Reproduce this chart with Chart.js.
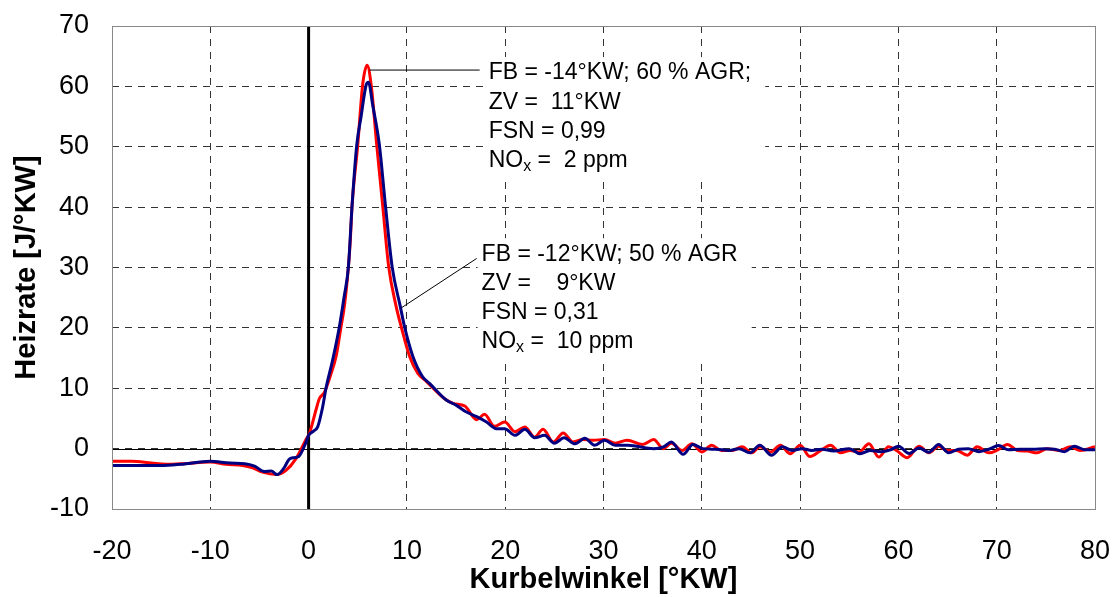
<!DOCTYPE html>
<html>
<head>
<meta charset="utf-8">
<script src="https://cdn.jsdelivr.net/npm/chart.js@4/dist/chart.umd.min.js"></script>
<style>
  html, body { margin: 0; padding: 0; background: #fff; }
  canvas { display: block; }
</style>
</head>
<body>
<canvas id="chart" width="1115" height="597"></canvas>
<script>
const xTicks = { min: -20, max: 80, step: 10 };
const yTicks = { min: -10, max: 70, step: 10 };

// FB = -14°KW; 60 % AGR (red)
const redX = [
  -20, -18, -16, -14.5, -12.8, -10, -8.4, -6.7, -5.7, -4.7,
  -3.3, -2.3, -1.3, -0.3, 0.1, 0.75, 1.1, 1.6, 2.2, 2.8,
  3.3, 3.64, 4.05, 4.25, 4.42, 5.0, 5.5, 5.95, 6.36, 6.93,
  7.54, 8.15, 8.9, 9.42, 10.27, 11.1, 12.0, 13.8, 14.7, 15.9,
  17.1, 17.9, 18.9, 19.95, 21.0, 22.0, 23.0, 23.85, 24.9, 25.9,
  26.9, 27.9, 28.95, 30.1, 31.2, 32.4, 34.0, 35.1, 36.1, 36.9,
  38.0, 39.0, 40.0, 41.0, 42.0, 43.1, 44.1, 45.1, 45.9, 47.0,
  48.0, 49.0, 50.0, 51.0, 52.1, 53.1, 54.1, 55.1, 56.0, 57.0,
  58.0, 59.0, 59.8, 60.9, 62.1, 63.1, 64.1, 64.9, 65.9, 67.0,
  68.0, 69.2, 70.0, 71.1, 72.1, 73.1, 74.1, 75.1, 76.4, 77.5,
  78.5, 80
];
const redY = [
  -2.1, -2.1, -2.4, -2.6, -2.5, -2.2, -2.6, -2.8, -3.2, -3.9,
  -4.3, -3.6, -1.7, 1.4, 2.6, 6.4, 8.3, 9.3, 12.0, 15.3,
  20.2, 23.6, 30.1, 34.7, 40.2, 50.3, 60.3, 63.5, 60.3, 50.3,
  40.2, 30.1, 23.6, 20.2, 15.3, 12.5, 11.1, 8.3, 7.5, 7.05,
  4.8, 5.7, 3.7, 4.4, 2.8, 3.6, 1.9, 3.2, 1.1, 2.6,
  1.1, 1.5, 1.4, 1.5, 0.9, 1.4, 0.7, 1.5, 0.0, 0.9,
  -0.3, 0.8, -0.55, 0.55, -0.3, -0.3, 0.3, -0.7, 0.3, -0.55,
  0.55, -0.85, 0.55, -1.3, -0.3, 0.55, -0.7, -0.3, -0.55, 0.8,
  -1.4, 0.3, -0.3, -1.5, 0.4, -0.7, 0.4, -0.3, -0.3, -1.1,
  0.3, -0.7, -0.3, 0.7, -0.3, -0.4, -0.7, 0.0, -0.3, 0.3,
  -0.3, 0.3
];

// FB = -12°KW; 50 % AGR (blue)
const blueX = [
  -20, -17, -15, -13, -10, -8, -6.5, -5.5, -4.5, -3.8,
  -3.2, -2.5, -2.0, -1.5, -1.0, -0.3, 0.0, 0.5, 0.92, 1.43,
  1.77, 2.45, 3.13, 3.6, 4.05, 4.42, 4.9, 5.34, 5.85, 6.09,
  6.52, 7.2, 7.82, 8.5, 9.32, 9.76, 10.6, 11.6, 12.3, 14.0,
  15.0, 16.0, 17.1, 18.1, 19.1, 19.95, 21.0, 22.0, 23.0, 24.0,
  25.0, 26.0, 27.1, 28.1, 29.1, 30.1, 31.2, 32.5, 35.1, 36.1,
  36.9, 38.1, 39.1, 40.1, 41.4, 42.8, 43.8, 44.9, 45.9, 47.1,
  48.2, 49.2, 50.2, 51.2, 52.2, 53.4, 55.0, 56.1, 57.1, 58.2,
  59.2, 60.0, 61.1, 62.1, 63.1, 64.1, 65.1, 66.1, 67.1, 68.2,
  69.2, 70.2, 71.2, 72.4, 73.7, 74.9, 75.9, 76.9, 77.9, 79.0,
  80
];
const blueY = [
  -2.8, -2.8, -2.8, -2.6, -2.1, -2.4, -2.5, -2.9, -3.8, -3.7,
  -4.3, -3.2, -1.8, -1.5, -1.3, 0.9, 2.2, 2.9, 3.6, 6.9,
  10.0, 14.7, 20.2, 25.0, 30.1, 40.2, 50.3, 55.0, 60.2, 60.7,
  56.9, 50.3, 40.2, 30.1, 23.6, 20.2, 15.3, 11.9, 10.8, 8.05,
  7.2, 6.1, 5.3, 4.4, 3.3, 3.3, 2.2, 3.2, 1.8, 2.2,
  0.9, 1.8, 0.8, 1.7, 0.55, 1.4, 0.55, 0.55, 0.0, 0.3,
  1.1, -0.95, 0.7, 0.0, -0.1, -0.3, 0.0, -0.7, 0.55, -1.1,
  0.3, -0.3, 0.0, -0.3, -0.1, -0.4, 0.0, -0.85, -0.3, -0.5,
  -0.2, 0.4, -0.8, 0.1, -0.6, 0.7, -0.7, -0.1, 0.0, -0.5,
  -0.1, 0.5, -0.2, -0.1, -0.1, 0.0, -0.1, -0.5, 0.4, -0.2,
  -0.2
];

const redNote  = ['FB = -14°KW; 60 % AGR;', 'ZV =  11°KW', 'FSN = 0,99', 'NOx =  2 ppm'];
const blueNote = ['FB = -12°KW; 50 % AGR', 'ZV =    9°KW', 'FSN = 0,31', 'NOx =  10 ppm'];

// anchors in axis units: text start, leader line start / end
const redNoteAt  = { x: 18.32, y: 62.2, fromX: 6.2,  fromY: 62.7, toX: 17.4, toY: 62.7 };
const blueNoteAt = { x: 17.6,  y: 32.2, fromX: 9.42, fromY: 23.3, toX: 17.1, toY: 31.5 };

const fontName = "'Liberation Sans', Arial, sans-serif";
const noteSize = 23;
const lineStep = 29.2;

function points(xs, ys) {
  return xs.map(function(x, i) { return { x: x, y: ys[i] }; });
}

function drawNoteText(ctx, text, x, y) {
  if (text.indexOf('NOx') === 0) {
    ctx.fillText('NO', x, y);
    let w = ctx.measureText('NO').width;
    ctx.font = '16px ' + fontName;
    ctx.fillText('x', x + w, y + 6);
    let w2 = ctx.measureText('x').width;
    ctx.font = noteSize + 'px ' + fontName;
    ctx.fillText(text.slice(3), x + w + w2, y);
  } else {
    ctx.fillText(text, x, y);
  }
}

function drawNote(chart, lines, at) {
  const ctx = chart.ctx;
  const xs = chart.scales.x, ys = chart.scales.y;
  const tx = xs.getPixelForValue(at.x);
  const ty = ys.getPixelForValue(at.y);
  ctx.save();
  ctx.font = noteSize + 'px ' + fontName;
  let maxW = 0;
  lines.forEach(function(l) { maxW = Math.max(maxW, ctx.measureText(l).width); });
  ctx.fillStyle = '#fff';
  ctx.fillRect(tx - 4, ty - 16, maxW + 18, lineStep * (lines.length - 1) + 34);

  ctx.strokeStyle = '#000';
  ctx.lineWidth = 1;
  ctx.beginPath();
  ctx.moveTo(xs.getPixelForValue(at.fromX), ys.getPixelForValue(at.fromY));
  ctx.lineTo(xs.getPixelForValue(at.toX), ys.getPixelForValue(at.toY));
  ctx.stroke();

  ctx.fillStyle = '#000';
  ctx.textBaseline = 'middle';
  ctx.textAlign = 'left';
  lines.forEach(function(l, i) { drawNoteText(ctx, l, tx, ty + i * lineStep); });
  ctx.restore();
}

const framePlugin = {
  id: 'frame',
  beforeDatasetsDraw(chart) {
    const ctx = chart.ctx, a = chart.chartArea;
    const xs = chart.scales.x, ys = chart.scales.y;
    ctx.save();
    ctx.strokeStyle = '#000';
    ctx.lineWidth = 1;
    const y0 = Math.round(ys.getPixelForValue(0)) + 0.5;
    ctx.beginPath();
    ctx.moveTo(a.left, y0);
    ctx.lineTo(a.right, y0);
    ctx.stroke();
    ctx.lineWidth = 3;
    const x0 = xs.getPixelForValue(0);
    ctx.beginPath();
    ctx.moveTo(x0, a.top);
    ctx.lineTo(x0, a.bottom);
    ctx.stroke();
    ctx.restore();
  },
  afterDatasetsDraw(chart) {
    const ctx = chart.ctx, a = chart.chartArea;
    drawNote(chart, redNote, redNoteAt);
    drawNote(chart, blueNote, blueNoteAt);
    ctx.save();
    ctx.strokeStyle = '#888';
    ctx.lineWidth = 1;
    ctx.strokeRect(Math.round(a.left) + 0.5, Math.round(a.top) + 0.5,
      Math.round(a.right - a.left), Math.round(a.bottom - a.top));
    ctx.restore();
  }
};

function noPadding(s) {
  s.paddingLeft = 0;
  s.paddingRight = 0;
  s.paddingTop = 0;
  s.paddingBottom = 0;
}

const control_Context = document.getElementById('chart').getContext('2d');

const chart = new Chart(control_Context, {
  type: 'line'
, data: {
    datasets: [{
      label: 'FB = -12°KW; 50 % AGR'
    , data: points(blueX, blueY)
    , borderColor: '#000080'
    , borderWidth: 3
    , pointRadius: 0
    , cubicInterpolationMode: 'monotone'
    }, {
      label: 'FB = -14°KW; 60 % AGR'
    , data: points(redX, redY)
    , borderColor: '#ff0000'
    , borderWidth: 3
    , pointRadius: 0
    , cubicInterpolationMode: 'monotone'
    }]
  }
, options: {
    responsive: false
  , animation: false
  , layout: { padding: { top: 26, right: 20, left: 0, bottom: 0 } }
  , plugins: { legend: { display: false }, tooltip: { enabled: false } }
  , scales: {
      x: {
        type: 'linear'
      , min: xTicks.min
      , max: xTicks.max
      , ticks: { stepSize: xTicks.step, color: '#000', padding: 26, font: { family: fontName, size: 27 } }
      , grid: { color: '#333', drawTicks: false }
      , border: { display: false, dash: [7, 6] }
      , title: { display: true, text: 'Kurbelwinkel [°KW]', color: '#000', padding: 0, font: { family: fontName, size: 29, weight: 'bold' } }
      , afterFit: function(s) { s.height = 88; noPadding(s); }
      }
    , y: {
        min: yTicks.min
      , max: yTicks.max
      , ticks: { stepSize: yTicks.step, color: '#000', padding: 23, font: { family: fontName, size: 27 } }
      , grid: { color: '#333', drawTicks: false }
      , border: { display: false, dash: [7, 6] }
      , title: { display: true, text: 'Heizrate [J/°KW]', color: '#000', padding: { top: 10, bottom: 0 }, font: { family: fontName, size: 29, weight: 'bold' } }
      , afterFit: function(s) { s.width = 112; noPadding(s); }
      }
    }
  }
, plugins: [framePlugin]
});
</script>
</body>
</html>
